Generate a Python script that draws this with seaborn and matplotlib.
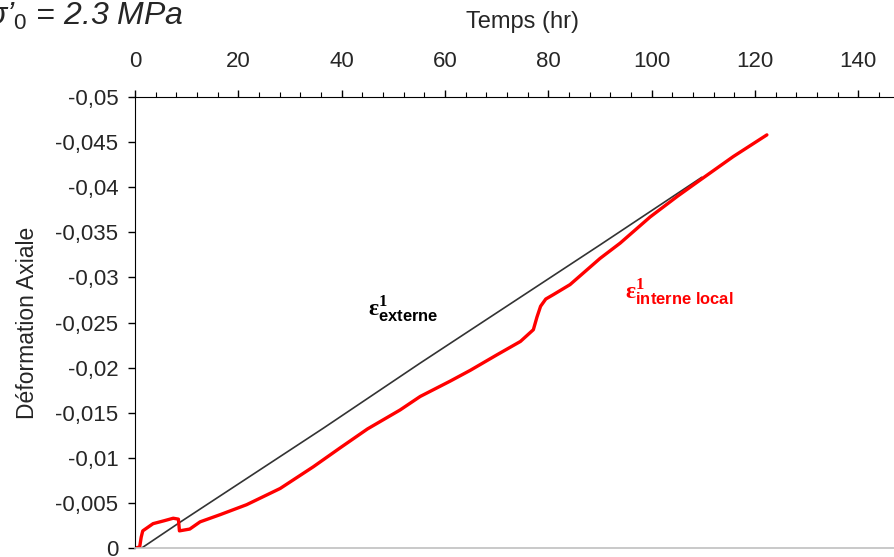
import pandas as pd
import seaborn as sns
import matplotlib.pyplot as plt
from matplotlib.ticker import MultipleLocator, FuncFormatter

# valeurs (temps en heures, déformation axiale)
temps_externe = [1.3, 8.7, 36.5, 55.2, 90.0, 109.7]
def_externe = [0.0, -0.00285, -0.0133, -0.0205, -0.0336, -0.0411]

temps_interne = [0.0, 0.9, 1.2, 1.5, 2.5, 3.5, 5.5, 7.4, 8.4, 8.6, 10.6, 12.6,
                 16.5, 21.6, 28.1, 34.5, 39.7, 45.0, 51.3, 55.2, 61.0, 64.9,
                 70.0, 74.6, 77.1, 77.8, 78.5, 79.5, 81.0, 84.2, 90.0, 93.9,
                 99.7, 105.0, 109.4, 115.8, 122.3]
def_interne = [0.0, -0.0001, -0.0012, -0.0019, -0.0023, -0.0027, -0.0030, -0.0033,
               -0.0032, -0.0019, -0.0021, -0.0029, -0.0037, -0.0048, -0.0066,
               -0.0090, -0.0111, -0.0132, -0.0153, -0.0168, -0.0185, -0.0197,
               -0.0214, -0.0229, -0.0242, -0.0256, -0.0268, -0.0276, -0.0281,
               -0.0292, -0.0321, -0.0338, -0.0367, -0.0390, -0.0408, -0.0434,
               -0.0458]

sns.set_style('ticks')
plt.rcParams['font.family'] = ['Liberation Sans', 'DejaVu Sans']
plt.rcParams['mathtext.fontset'] = 'custom'
plt.rcParams['mathtext.rm'] = 'Liberation Sans'
plt.rcParams['mathtext.it'] = 'Liberation Sans:italic'
plt.rcParams['mathtext.bf'] = 'Liberation Serif:bold'
plt.rcParams['mathtext.sf'] = 'Liberation Sans:bold'

df_ext = pd.DataFrame({'temps': temps_externe, 'deformation': def_externe})
df_int = pd.DataFrame({'temps': temps_interne, 'deformation': def_interne})

fig = plt.figure(figsize=(8.94, 5.57), dpi=100)
ax = fig.add_axes([135 / 894, 1 - 548 / 557, 775 / 894, 451 / 557])

sns.lineplot(data=df_ext, x='temps', y='deformation', ax=ax, color='#333333',
             linewidth=1.2, sort=False, estimator=None)
sns.lineplot(data=df_int, x='temps', y='deformation', ax=ax, color='#ff0000',
             linewidth=2.4, sort=False, estimator=None)

ax.set_xlim(0, 150)
ax.set_ylim(0, -0.05)

ax.xaxis.tick_top()
ax.xaxis.set_label_position('top')
ax.xaxis.set_major_locator(MultipleLocator(20))
ax.xaxis.set_minor_locator(MultipleLocator(4))
ax.yaxis.set_major_locator(MultipleLocator(0.005))


def virgule(v, pos):
    if abs(v) < 1e-12:
        return '0'
    return ('%g' % v).replace('.', ',')


ax.yaxis.set_major_formatter(FuncFormatter(virgule))
ax.tick_params(axis='x', which='major', direction='out', length=5, width=1,
               pad=13, labelsize=16, color='black')
ax.tick_params(axis='x', which='minor', direction='out', length=3.5, width=0.8,
               color='black')
ax.tick_params(axis='y', which='major', direction='out', length=5, width=1,
               pad=7, labelsize=16, color='black')

ax.spines['right'].set_visible(False)
ax.spines['bottom'].set_color('#c0c0c0')
ax.spines['bottom'].set_linewidth(1.2)
ax.spines['top'].set_color('black')
ax.spines['left'].set_color('black')

ax.set_xlabel('Temps (hr)', fontsize=17)
ax.set_ylabel('Déformation Axiale', fontsize=16.5)
ax.xaxis.set_label_coords(0.5, 1 + 75 / 451)
ax.xaxis.label.set_va('center')
ax.yaxis.set_label_coords(-107 / 775, 0.5)
ax.yaxis.label.set_va('center')

ax.text(45.1, -0.0257, r'$\mathbf{\varepsilon}^{\mathbf{1}}_{\mathsf{externe}}$',
        color='black', fontsize=17, ha='left', va='baseline')
ax.text(94.9, -0.0276, r'$\mathbf{\varepsilon}^{\mathbf{1}}_{\mathsf{interne\ local}}$',
        color='#ff0000', fontsize=17, ha='left', va='baseline')

fig.text(184 / 894, 1 - 25 / 557, r"σ’$_{\mathit{0}}$ = 2.3 MPa", fontsize=23,
         style='italic', ha='right', va='baseline')

fig.savefig('out.png', dpi=100)
